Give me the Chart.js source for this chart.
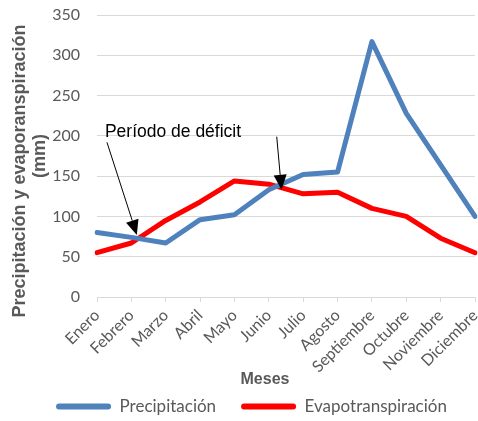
<!DOCTYPE html>
<html>
<head>
<meta charset="utf-8">
<script src="https://cdn.jsdelivr.net/npm/chart.js@4"></script>
<style>
    html, body { margin: 0; padding: 0; background: #fff; }
    #wrap { width: 478px; height: 421px; }
</style>
</head>
<body>
<div id="wrap"><canvas id="lineChart"></canvas></div>
<script>
// datos
const meses = ['Enero', 'Febrero', 'Marzo', 'Abril', 'Mayo', 'Junio', 'Julio',
    'Agosto', 'Septiembre', 'Octubre', 'Noviembre', 'Diciembre'];
const precipitacion = [80, 74, 67, 96, 102, 133, 152, 155, 317, 228, 164, 100];
const evapotranspiracion = [55, 67, 95, 118, 144, 140, 128, 130, 110, 100, 73, 55];
const yTicks = [0, 50, 100, 150, 200, 250, 300, 350];

// nota "Período de déficit" (en unidades del gráfico)
const notaTexto = 'Período de déficit';
const notaPos = { x: 0.23, y: 198 };
const flechas = [
    { desde: [0.29, 192], hasta: [1.16, 77] },
    { desde: [5.23, 199], hasta: [5.37, 133] }
];

const gris = '#595959';
const lineaGrid = '#d9d9d9';

const notaPlugin = {
    id: 'nota',
    afterDatasetsDraw(chart) {
        const { ctx, chartArea } = chart;
        const x = chart.scales.x, y = chart.scales.y;
        ctx.save();
        ctx.fillStyle = '#000';
        ctx.strokeStyle = '#000';
        ctx.lineWidth = 1;
        ctx.font = '17.5px "Liberation Sans", Arial, sans-serif';
        ctx.textBaseline = 'alphabetic';
        ctx.textAlign = 'left';
        ctx.fillText(notaTexto, x.getPixelForValue(notaPos.x), y.getPixelForValue(notaPos.y));

        flechas.forEach(f => {
            const x1 = x.getPixelForValue(f.desde[0]), y1 = y.getPixelForValue(f.desde[1]);
            const x2 = x.getPixelForValue(f.hasta[0]), y2 = y.getPixelForValue(f.hasta[1]);
            const a = Math.atan2(y2 - y1, x2 - x1);
            const len = 15, half = 6.5;
            const bx = x2 - len * Math.cos(a), by = y2 - len * Math.sin(a);
            ctx.beginPath();
            ctx.moveTo(x1, y1);
            ctx.lineTo(bx, by);
            ctx.stroke();
            ctx.beginPath();
            ctx.moveTo(x2, y2);
            ctx.lineTo(bx + half * Math.sin(a), by - half * Math.cos(a));
            ctx.lineTo(bx - half * Math.sin(a), by + half * Math.cos(a));
            ctx.closePath();
            ctx.fill();
        });

        // título del eje X
        ctx.font = 'bold 16px "Liberation Sans", Arial, sans-serif';
        ctx.fillStyle = gris;
        ctx.textAlign = 'center';
        ctx.textBaseline = 'middle';
        ctx.fillText('Meses', (chartArea.left + chartArea.right) / 2 - 21, chartArea.bottom + 83);
        ctx.restore();
    }
};

new Chart(document.getElementById('lineChart'), {
    type: 'line',
    data: {
        labels: meses,
        datasets: [{
            label: 'Precipitación',
            data: precipitacion,
            borderColor: '#4f81bd',
            backgroundColor: '#4f81bd',
            borderWidth: 5,
            pointRadius: 0,
            borderJoinStyle: 'round',
            borderCapStyle: 'round',
            fill: false
        }, {
            label: 'Evapotranspiración',
            data: evapotranspiracion,
            borderColor: '#ff0000',
            backgroundColor: '#ff0000',
            borderWidth: 5,
            pointRadius: 0,
            borderJoinStyle: 'round',
            borderCapStyle: 'round',
            fill: false
        }]
    },
    options: {
        responsive: true,
        maintainAspectRatio: false,
        animation: false,
        layout: { padding: { top: 15, right: 3, bottom: -4, left: 28 } },
        plugins: {
            tooltip: { enabled: false },
            legend: {
                position: 'bottom',
                labels: {
                    boxWidth: 55,
                    boxHeight: 6,
                    padding: 25,
                    color: gris,
                    font: { family: 'Lato', size: 17 },
                    generateLabels: chart => Chart.defaults.plugins.legend.labels.generateLabels(chart)
                        .map(item => Object.assign(item, { lineWidth: 0, borderRadius: 3 }))
                }
            }
        },
        scales: {
            x: {
                offset: false,
                grid: { display: true, drawOnChartArea: false, drawTicks: true, tickLength: 5, color: lineaGrid },
                border: { display: true, color: lineaGrid, width: 1 },
                ticks: {
                    autoSkip: false,
                    minRotation: 45,
                    maxRotation: 45,
                    padding: 4,
                    color: gris,
                    font: { family: 'Lato', size: 16 }
                },
                afterFit: s => { s.height = 76; s.paddingLeft = 0; s.paddingRight = 0; }
            },
            y: {
                min: 0,
                max: 350,
                afterBuildTicks: s => { s.ticks = yTicks.map(v => ({ value: v })); },
                grid: { color: lineaGrid, drawTicks: false },
                border: { display: false },
                ticks: {
                    padding: 17,
                    color: gris,
                    font: { family: 'Lato', size: 16 }
                },
                title: {
                    display: true,
                    // los espacios finales bajan un poco la primera línea, como en el original
                    text: ['Precipitación y evaporanspiración      ', '(mm)'],
                    color: gris,
                    font: { family: '"Liberation Sans", Arial, sans-serif', size: 18, weight: 'bold', lineHeight: 1.1 },
                    padding: { top: -18, bottom: 0 }
                },
                afterFit: s => { s.width = 69; s.paddingTop = 0; s.paddingBottom = 0; }
            }
        }
    },
    plugins: [notaPlugin]
});
</script>
</body>
</html>
